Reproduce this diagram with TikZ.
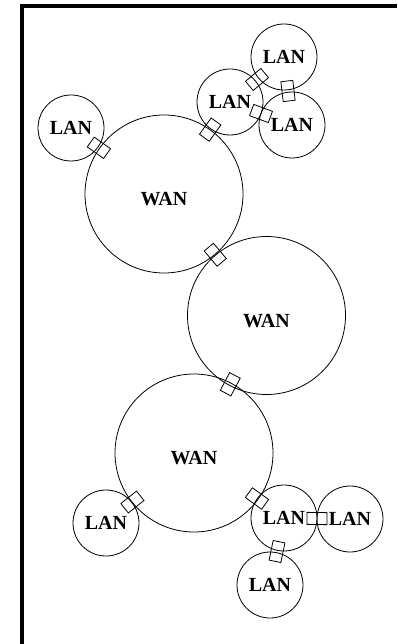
\documentclass[tikz,border=0pt]{standalone}
\usepackage{fontspec}
\setmainfont{Liberation Serif}
\begin{document}
\begin{tikzpicture}[x=1pt,y=-1pt,
    net/.style={draw,circle,inner sep=0pt,line width=0.8pt,font=\fontsize{20}{20}\selectfont\bfseries},
    wan/.style={net,minimum size=158pt,text height=23pt,text depth=0pt},
    lan/.style={net,minimum size=66pt},
    gw/.style={draw,rectangle,sloped,minimum width=20pt,minimum height=12pt,inner sep=0pt,line width=0.8pt}]
            \useasboundingbox (0,0) rectangle (397,644);
            \draw[line width=4pt] (22,644) -- (22,6) -- (397,6);

            \node[wan] (W1) at (164,194) {WAN};
            \node[wan] (W2) at (266.5,315.5) {WAN};
            \node[wan] (W3) at (194,453) {WAN};

            \node[lan] (A) at (71,128) {LAN};
            \node[lan] (B) at (230,102) {LAN};
            \node[lan] (C) at (284,57) {LAN};
            \node[lan] (D) at (292,125) {LAN};
            \node[lan] (E) at (106,523) {LAN};
            \node[lan] (F) at (284,518) {LAN};
            \node[lan] (G) at (350,519) {LAN};
            \node[lan] (H) at (270,585) {LAN};

            \path (W1.center) -- node[gw,pos=0.5] (X1) {} (W2.center);
            \path (W2.center) -- node[gw,pos=0.5] (X2) {} (W3.center);
            \path (W1.center) -- node[gw,pos=0.7] (X3) {} (A.center);
            \path (W1.center) -- node[gw,pos=0.7] (X4) {} (B.center);
            \path (B.center) -- node[gw,pos=0.5] (X5) {} (C.center);
            \path (C.center) -- node[gw,pos=0.5] (X6) {} (D.center);
            \path (B.center) -- node[gw,pos=0.5] (X7) {} (D.center);
            \path (W3.center) -- node[gw,pos=0.7] (X8) {} (E.center);
            \path (W3.center) -- node[gw,pos=0.7] (X9) {} (F.center);
            \path (F.center) -- node[gw,pos=0.5] (Y1) {} (G.center);
            \path (F.center) -- node[gw,pos=0.5] (Y2) {} (H.center);
\end{tikzpicture}
\end{document}
